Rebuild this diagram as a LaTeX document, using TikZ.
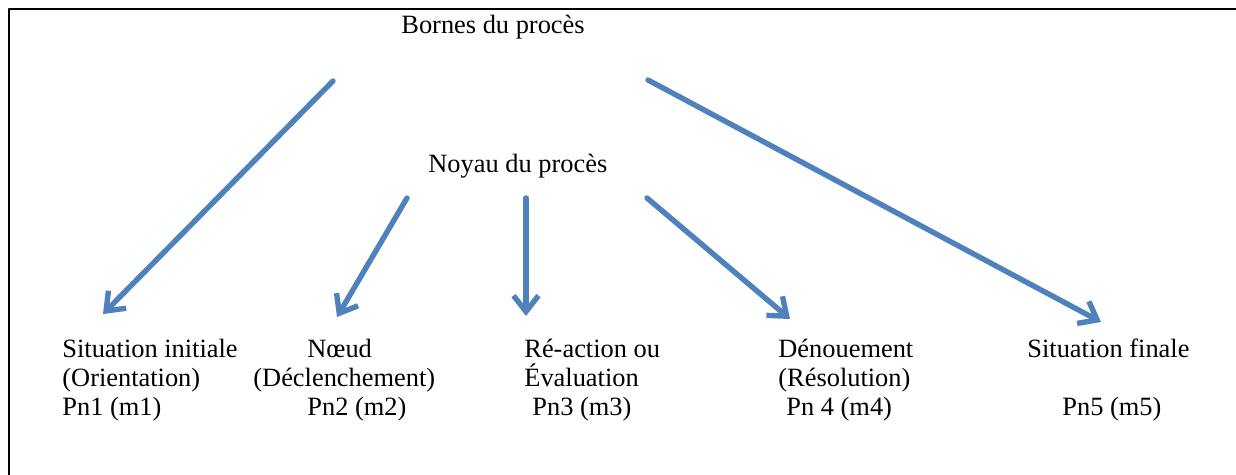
\documentclass[tikz,border=0pt]{standalone}
\usepackage{fontspec}
\setmainfont{Liberation Serif}
\usetikzlibrary{arrows.meta}
\definecolor{arrowblue}{RGB}{79,129,189}
\begin{document}
\begin{tikzpicture}[x=0.5pt,y=-0.5pt,line join=round,line cap=round,
	txt/.style={inner sep=0pt,align=left,anchor=north west,font=\fontsize{13.2}{14.5}\selectfont},
	flow/.style={draw=arrowblue,line width=2.7pt,-{Straight Barb[length=8pt,width=12.5pt]}}]
	\useasboundingbox (0,0) rectangle (1236,475);
	\draw[line width=1.3pt,line cap=butt] (9,480)--(9,9)--(1240,9);
	% titles
	\node[txt] (bornes) at (401,15) {Bornes du procès};
	\node[txt] (noyau) at (428,154) {Noyau du procès};
	% moments
	\node[txt] (pn1) at (62,339) {Situation initiale\\(Orientation)\\Pn1 (m1)};
	\node[txt] (pn2) at (253,339) {\hspace*{27pt}Nœud\\(Déclenchement)\\\hspace*{27pt}Pn2 (m2)};
	\node[txt] (pn3) at (524,339) {Ré-action ou\\Évaluation\\\hspace*{4pt}Pn3 (m3)};
	\node[txt] (pn4) at (778,339) {Dénouement\\(Résolution)\\\hspace*{4pt}Pn 4 (m4)};
	\node[txt] (pn5) at (1027,339) {Situation finale\\\mbox{}\\\hspace*{17.5pt}Pn5 (m5)};
	% arrows
	\coordinate (bornesL) at (333,81);
	\coordinate (bornesR) at (648,80);
	\coordinate (noyauL) at (407,198);
	\coordinate (noyauM) at (526,198);
	\coordinate (noyauR) at (647,198);
	\coordinate (tip1) at (103,314);
	\coordinate (tip2) at (337,317);
	\coordinate (tip3) at (526,316);
	\coordinate (tip4) at (790,319);
	\coordinate (tip5) at (1101,322);
	\draw[flow] (bornesL)--(tip1);
	\draw[flow] (noyauL)--(tip2);
	\draw[flow] (noyauM)--(tip3);
	\draw[flow] (noyauR)--(tip4);
	\draw[flow] (bornesR)--(tip5);
\end{tikzpicture}
\end{document}
